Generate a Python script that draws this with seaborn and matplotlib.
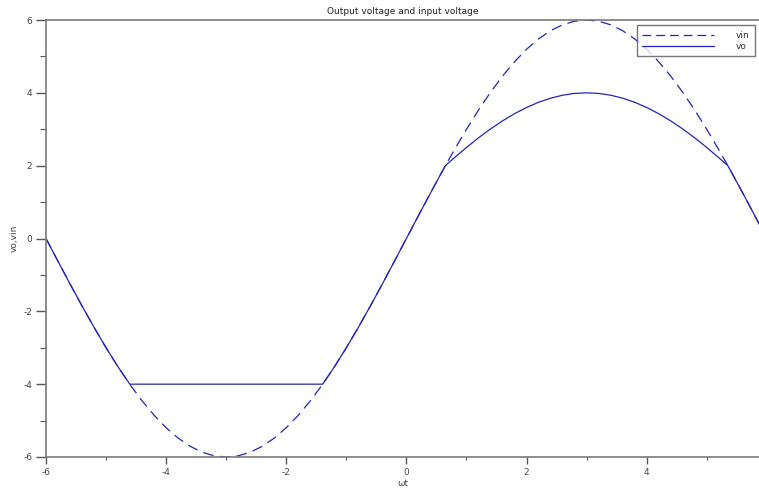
import matplotlib
matplotlib.use("Agg")
import matplotlib.pyplot as plt
import seaborn as sns
import pandas as pd
from matplotlib.ticker import MultipleLocator

# ---- data ----
wt = [-6.0, -5.8, -5.6, -5.4, -5.2, -5.0, -4.8, -4.606, -4.6, -4.4, -4.2, -4.0,
      -3.8, -3.6, -3.4, -3.2, -3.0, -2.8, -2.6, -2.4, -2.2, -2.0, -1.8, -1.6,
      -1.4, -1.394, -1.2, -1.0, -0.8, -0.6, -0.4, -0.2, 0.0, 0.2, 0.4, 0.6,
      0.649, 0.8, 1.0, 1.2, 1.4, 1.6, 1.8, 2.0, 2.2, 2.4, 2.6, 2.8, 3.0, 3.2,
      3.4, 3.6, 3.8, 4.0, 4.2, 4.4, 4.6, 4.8, 5.0, 5.2, 5.351, 5.4, 5.6, 5.8, 6.0]

vin = [0.0, -0.627, -1.247, -1.854, -2.440, -3.0, -3.527, -4.0, -4.015, -4.459, -4.854, -5.196,
       -5.481, -5.706, -5.869, -5.967, -6.0, -5.967, -5.869, -5.706, -5.481, -5.196, -4.854, -4.459,
       -4.015, -4.0, -3.527, -3.0, -2.440, -1.854, -1.247, -0.627, 0.0, 0.627, 1.247, 1.854,
       2.0, 2.440, 3.0, 3.527, 4.015, 4.459, 4.854, 5.196, 5.481, 5.706, 5.869, 5.967, 6.0, 5.967,
       5.869, 5.706, 5.481, 5.196, 4.854, 4.459, 4.015, 3.527, 3.0, 2.440, 2.0, 1.854, 1.247, 0.627, 0.0]

vo = [0.0, -0.627, -1.247, -1.854, -2.440, -3.0, -3.527, -4.0, -4.0, -4.0, -4.0, -4.0,
      -4.0, -4.0, -4.0, -4.0, -4.0, -4.0, -4.0, -4.0, -4.0, -4.0, -4.0, -4.0,
      -4.0, -4.0, -3.527, -3.0, -2.440, -1.854, -1.247, -0.627, 0.0, 0.627, 1.247, 1.854,
      2.0, 2.220, 2.5, 2.764, 3.008, 3.230, 3.427, 3.598, 3.741, 3.853, 3.935, 3.984, 4.0, 3.984,
      3.935, 3.853, 3.741, 3.598, 3.427, 3.230, 3.008, 2.764, 2.5, 2.220, 2.0, 1.854, 1.247, 0.627, 0.0]

x_ticks = [-6, -4, -2, 0, 2, 4]
y_ticks = [-6, -4, -2, 0, 2, 4, 6]

title = "Output voltage and input voltage"
xlabel = "ωt"
ylabel = "vo,vin"

df = pd.DataFrame({"wt": wt, "vin": vin, "vo": vo})

# ---- style ----
sns.set_style("white")
plt.rcParams["font.family"] = ["DejaVu Sans"]
plt.rcParams["axes.unicode_minus"] = False

fig = plt.figure(figsize=(7.59, 4.88), dpi=100)
ax = fig.add_axes([46 / 759, 31 / 488, 713 / 759, 437 / 488])

line_color = "#2525bb"
sns.lineplot(data=df, x="wt", y="vin", ax=ax, color=line_color, linewidth=0.9,
             label="vin", sort=False)
sns.lineplot(data=df, x="wt", y="vo", ax=ax, color=line_color, linewidth=0.9,
             label="vo", sort=False)
ax.lines[0].set_dashes([8.5, 5])

ax.set_xlim(-6, 5.87)
ax.set_ylim(-6, 6)
ax.set_xticks(x_ticks)
ax.set_yticks(y_ticks)
ax.xaxis.set_minor_locator(MultipleLocator(1))
ax.yaxis.set_minor_locator(MultipleLocator(1))

spine_color = "#7a7a7a"
for side in ["left", "top", "bottom"]:
    ax.spines[side].set_color(spine_color)
    ax.spines[side].set_linewidth(1.2)
ax.spines["right"].set_visible(False)

ax.tick_params(axis="x", which="major", direction="out", length=5, width=1,
               color="#555555", labelsize=6.5, labelcolor="#444444", pad=3,
               bottom=True)
ax.tick_params(axis="x", which="minor", direction="out", length=2.5, width=0.8,
               color="#555555", bottom=True)
ax.tick_params(axis="y", which="major", direction="out", length=7, width=1,
               color="#555555", labelsize=6.5, labelcolor="#444444", pad=3,
               left=True)
ax.tick_params(axis="y", which="minor", direction="out", length=4.5, width=0.8,
               color="#555555", left=True)

ax.set_title(title, fontsize=6.5, color="#222222", pad=4)
ax.set_xlabel(xlabel, fontsize=6.5, color="#444444", labelpad=1)
ax.set_ylabel(ylabel, fontsize=6.5, color="#444444", labelpad=3)

leg = ax.legend(loc="upper right", bbox_to_anchor=(0.9945, 0.988), fontsize=6.5,
                frameon=True, fancybox=False, handlelength=8.0, handletextpad=2.4,
                borderpad=0.6, labelspacing=0.25, borderaxespad=0.0,
                markerfirst=True)
leg.get_frame().set_edgecolor("#555555")
leg.get_frame().set_linewidth(1.0)
for t in leg.get_texts():
    t.set_color("#333333")
leg.get_lines()[0].set_dashes([7, 4])

fig.savefig("out.png", dpi=100)
